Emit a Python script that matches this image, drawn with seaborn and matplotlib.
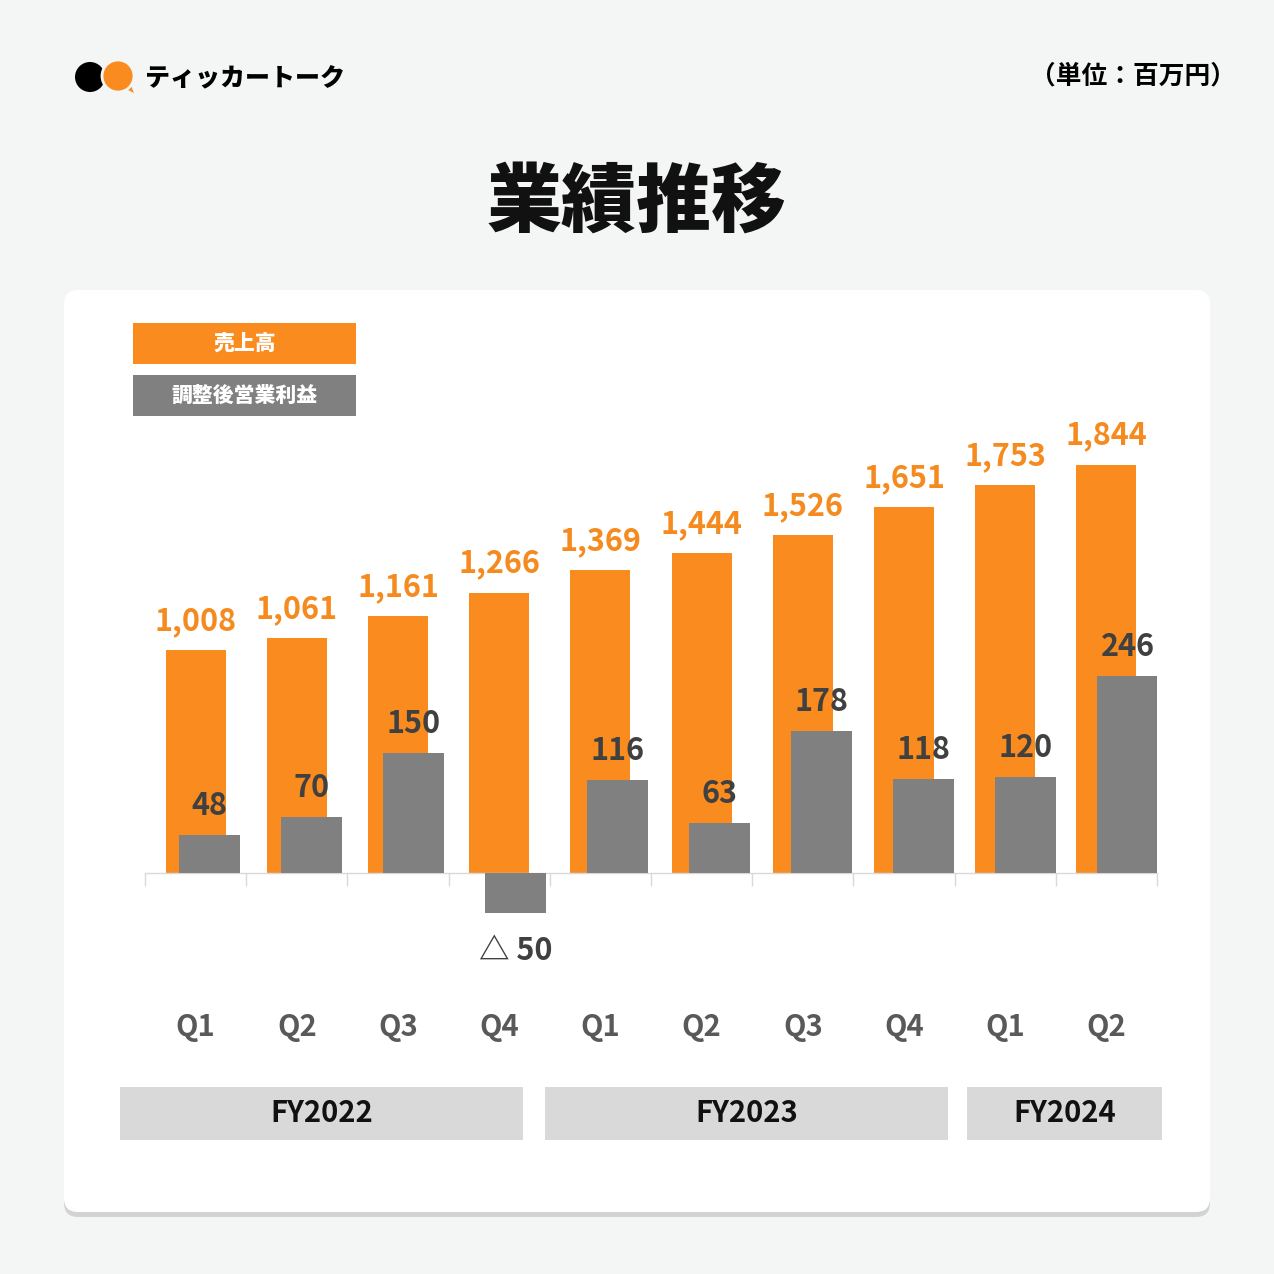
import numpy as np
import pandas as pd
import matplotlib
matplotlib.use("Agg")
import matplotlib.pyplot as plt
import seaborn as sns
from matplotlib.patches import Rectangle, FancyBboxPatch, Circle, Polygon

# data
quarters = ["Q1", "Q2", "Q3", "Q4", "Q1", "Q2", "Q3", "Q4", "Q1", "Q2"]
sales = [1008, 1061, 1161, 1266, 1369, 1444, 1526, 1651, 1753, 1844]
op_profit = [48, 70, 150, -50, 116, 63, 178, 118, 120, 246]
fiscal_years = ["FY2022", "FY2023", "FY2024"]
series_names = ["売上高", "調整後営業利益"]

ORANGE = "#F98B1F"
GRAY = "#808080"
BG = "#F4F5F5"

sns.set_theme(style="white")
plt.rcParams["font.family"] = ["Noto Sans CJK JP", "DejaVu Sans"]

fig = plt.figure(figsize=(12.74, 12.74), dpi=100)
fig.patch.set_facecolor(BG)

# overlay in pixel coordinates for the decoration
deco = fig.add_axes([0, 0, 1, 1])
deco.set_xlim(0, 1274)
deco.set_ylim(1274, 0)
deco.axis("off")

# card with shadow
deco.add_patch(FancyBboxPatch((64, 293), 1146, 924, boxstyle="round,pad=0,rounding_size=14",
                              fc="#BDBDBD", ec="none", alpha=0.6))
deco.add_patch(FancyBboxPatch((64, 290), 1146, 922, boxstyle="round,pad=0,rounding_size=14",
                              fc="white", ec="none"))

# logo
deco.add_patch(Circle((90, 77), 15, fc="black", ec="none"))
deco.add_patch(Polygon([[120, 86], [134, 93], [128, 78]], fc=ORANGE, ec="none"))
deco.add_patch(Circle((118, 76), 16, fc=ORANGE, ec=BG, lw=2))
deco.text(145, 77, "ティッカートーク", fontsize=18, fontweight="black", color="black",
          va="center", ha="left")
deco.text(1236, 76, "（単位：百万円）", fontsize=18.5, fontweight="bold", color="black",
          va="center", ha="right")
deco.text(637, 203, "業績推移", fontsize=54, fontweight="black", color="#111111",
          va="center", ha="center")

# legend boxes
for (y0, col), name in zip([(323, ORANGE), (375, GRAY)], series_names):
    deco.add_patch(Rectangle((133, y0), 223, 41, fc=col, ec="none"))
    deco.text(244.5, y0 + 20.5, name, color="white", fontsize=15, fontweight="black",
              ha="center", va="center")

# fiscal year boxes
for (x0, x1), fy in zip([(120, 523), (545, 948), (967, 1162)], fiscal_years):
    deco.add_patch(Rectangle((x0, 1087), x1 - x0, 53, fc="#D9D9D9", ec="none"))
    deco.text((x0 + x1) / 2, 1113, fy, fontsize=21, fontweight="bold", color="#111111",
              ha="center", va="center")

# main chart (sales) and a second, independent axes on top (profit)
top_px, bot_px = 420, 1000
zero_px = 873
h = bot_px - top_px
rect = [145 / 1274, 1 - bot_px / 1274, 1012 / 1274, h / 1274]
s_sales = 0.2215
s_op = 0.80

idx = np.arange(len(quarters))
df = pd.DataFrame({"pos": idx, "sales": sales, "op": op_profit, "q": quarters})

ax = fig.add_axes(rect)
ax.patch.set_alpha(0)
sns.barplot(data=df, x="pos", y="sales", native_scale=True, width=0.593, color=ORANGE,
            saturation=1, linewidth=0, edgecolor="none", ax=ax)
ax.set_xlim(-0.5, len(quarters) - 0.5)
ax.set_ylim(-(bot_px - zero_px) / s_sales, (zero_px - top_px) / s_sales)

ax2 = fig.add_axes(rect)
ax2.patch.set_alpha(0)
sns.barplot(data=df, x="pos", y="op", native_scale=True, width=0.598, color=GRAY,
            saturation=1, linewidth=0, edgecolor="none", ax=ax2)
ax2.set_xlim(-0.632, 9.285)
ax2.set_ylim(-(bot_px - zero_px) / s_op, (zero_px - top_px) / s_op)

for a in (ax, ax2):
    a.set_xlabel("")
    a.set_ylabel("")
    a.set_yticks([])
    for sp in a.spines.values():
        sp.set_visible(False)
ax2.set_xticks([])

ax.spines["bottom"].set_visible(True)
ax.spines["bottom"].set_position(("data", 0))
ax.spines["bottom"].set_color("#D9D9D9")
ax.spines["bottom"].set_linewidth(1)
ax.set_xticks(np.arange(-0.5, len(quarters), 1))
ax.set_xticklabels([])
ax.tick_params(axis="x", direction="out", length=9.5, color="#D9D9D9", width=1, bottom=True)

# value labels
for i, v in enumerate(sales):
    ax.annotate(f"{v:,}", (i, v), xytext=(0, 14.4), textcoords="offset points",
                ha="center", va="baseline", fontsize=22, fontweight="bold", color="#F58A1F")
for i, v in enumerate(op_profit):
    if v >= 0:
        ax2.annotate(f"{v}", (i, v), xytext=(0, 14.4), textcoords="offset points",
                     ha="center", va="baseline", fontsize=22, fontweight="bold", color="#404040")
    else:
        ax2.annotate(f"△ {abs(v)}", (i, v), xytext=(0, -16), textcoords="offset points",
                     ha="center", va="top", fontsize=22, fontweight="bold", color="#404040")

# quarter labels
for i, q in enumerate(quarters):
    ax.text(i, (bot_px - 1027) / h, q, transform=ax.get_xaxis_transform(), ha="center",
            va="center", fontsize=21, fontweight="bold", color="#595959")

fig.savefig("out.png", dpi=100, facecolor=BG)
